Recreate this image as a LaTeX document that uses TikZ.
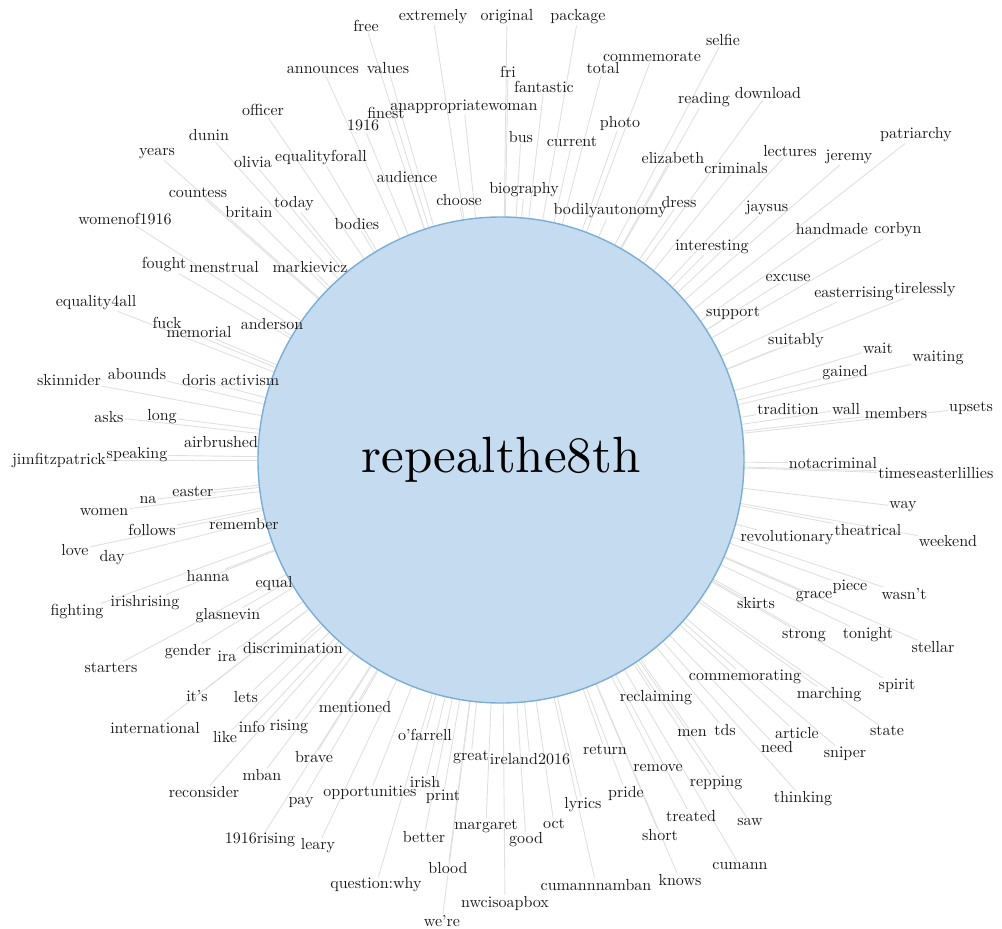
\documentclass[tikz,border=0pt]{standalone}
\usepackage{fontspec}
\setmainfont{lmroman10-regular}[Extension=.otf]
\pgfdeclarelayer{bg}
\pgfsetlayers{bg,main}
\definecolor{hubfill}{HTML}{C5DBF0}
\definecolor{hubline}{HTML}{7AAED6}
\definecolor{lnk}{HTML}{E0E0E0}
\definecolor{txt}{HTML}{1A1A1A}
\tikzset{
  word/.style={font=\fontsize{16}{18}\selectfont, text=txt, inner sep=1pt},
  link/.style={draw=lnk, line width=0.9pt},
  hubnode/.style={circle, fill=hubfill, draw=hubline, line width=1.4pt, minimum size=486pt, inner sep=0pt, text=black, font=\fontsize{51}{60}\selectfont}
}
\begin{document}
\begin{tikzpicture}[x=1pt,y=-1pt]
\useasboundingbox (0,0) rectangle (1002,929);
\node[hubnode] (hub) at (501,460) {repealthe8th};
\foreach \x/\y/\t [count=\i] in {
366/26/free, 433/17/extremely, 507/17/original, 578/17/package,
652/57/commemorate, 723/40/selfie, 323/70/announces, 388/68/values,
508/72/fri, 544/87/fantastic, 603/68/total, 363/125/1916, 386/113/finest,
464/107/anappropriatewoman, 521/137/bus, 572/142/current, 620/123/photo,
704/100/reading, 768/93/download, 263/110/officer, 209/135/dunin,
157/154/years, 253/162/olivia, 321/157/equalityforall, 407/177/audience,
459/200/choose, 524/190/biography, 610/211/bodilyautonomy, 673/158/elizabeth,
736/168/criminals, 790/151/lectures, 849/157/jeremy, 916/135/patriarchy,
679/202/dress, 767/208/jaysus, 832/229/handmade, 898/230/corbyn,
712/247/interesting, 788/278/excuse, 854/294/easterrising, 925/290/tirelessly,
733/313/support, 796/341/suitably, 878/348/wait, 938/358/waiting,
845/373/gained, 788/409/tradition, 846/409/wall, 896/413/members,
971/408/upsets, 833/463/notacriminal, 897/473/times, 955/473/easterlillies,
903/507/way, 868/530/theatrical, 787/538/revolutionary, 948/541/weekend,
756/603/skirts, 814/597/grace, 850/587/piece, 904/594/wasn't,
804/635/strong, 868/635/tonight, 933/647/stellar, 745/677/commemorating,
829/695/marching, 897/686/spirit, 656/698/reclaiming, 692/733/men,
725/730/tds, 797/733/article, 777/747/need, 845/754/sniper, 887/731/state,
658/768/remove, 716/783/repping, 803/799/thinking, 691/816/treated,
750/822/saw, 660/835/short, 740/866/cumann, 680/880/knows, 605/750/return,
626/793/pride, 583/805/lyrics, 554/824/oct, 526/840/good, 486/826/margaret,
530/759/ireland2016, 471/757/great, 425/735/o'farrell, 425/782/irish,
443/797/print, 370/793/opportunities, 424/837/better, 448/868/blood,
376/885/question:why, 505/903/nwcisoapbox, 442/921/we're, 596/885/cumannnamban,
355/707/mentioned, 314/757/brave, 301/803/pay, 318/846/leary,
260/840/1916rising, 204/792/reconsider, 262/775/mban, 252/727/info,
289/727/rising, 225/737/like, 155/728/international, 197/696/it's,
246/697/lets, 188/652/gender, 227/656/ira, 293/648/discrimination,
111/668/starters, 228/616/glasnevin, 145/603/irishrising, 77/612/fighting,
274/583/equal, 208/576/hanna, 75/550/love, 112/558/day, 244/524/remember,
152/530/follows, 104/512/women, 148/500/na, 193/492/easter,
59/460/jimfitzpatrick, 137/455/speaking, 221/442/airbrushed, 109/417/asks,
162/417/long, 69/380/skinnider, 137/374/abounds, 199/380/doris,
250/380/activism, 96/303/equality4all, 167/323/fuck, 199/332/memorial,
272/324/anderson, 164/265/fought, 224/267/menstrual, 310/267/markievicz,
125/219/womenof1916, 198/193/countess, 249/212/britain, 294/204/today,
357/224/bodies}
{
  \node[word] (w\i) at (\x,\y) {\t};
  \begin{pgfonlayer}{bg}
    \draw[link] (hub.center) -- (w\i);
  \end{pgfonlayer}
}
\end{tikzpicture}
\end{document}
